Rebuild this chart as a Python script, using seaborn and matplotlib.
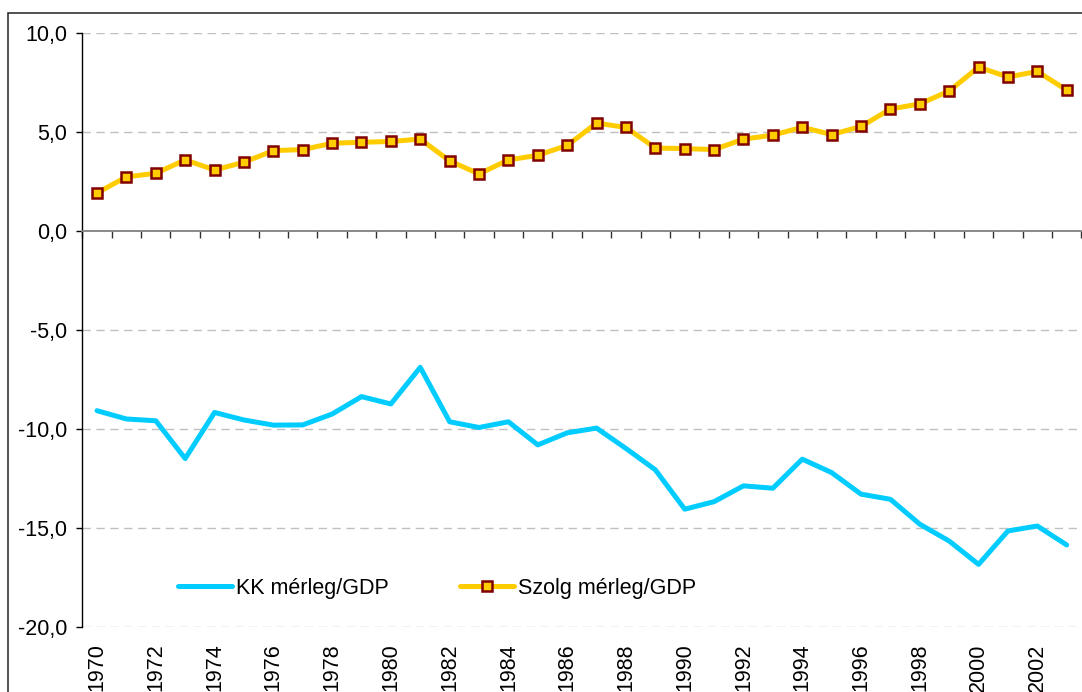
import numpy as np
import pandas as pd
import matplotlib
matplotlib.use("Agg")
import matplotlib.pyplot as plt
import matplotlib.patches as patches
from matplotlib.ticker import FuncFormatter, MultipleLocator
import seaborn as sns

years = list(range(1970, 2004))
kk_merleg = [-9.08, -9.50, -9.59, -11.50, -9.17, -9.55, -9.81, -9.80, -9.25, -8.37,
             -8.74, -6.89, -9.64, -9.93, -9.64, -10.81, -10.20, -9.96, -10.99, -12.07,
             -14.06, -13.68, -12.88, -13.00, -11.53, -12.21, -13.30, -13.56, -14.82, -15.67,
             -16.85, -15.16, -14.91, -15.87]
szolg_merleg = [1.93, 2.74, 2.92, 3.60, 3.09, 3.48, 4.07, 4.12, 4.44, 4.49,
                4.53, 4.65, 3.55, 2.89, 3.60, 3.83, 4.33, 5.46, 5.24, 4.20,
                4.17, 4.12, 4.65, 4.85, 5.25, 4.88, 5.29, 6.17, 6.43, 7.08,
                8.29, 7.79, 8.07, 7.13]
labels = ["KK mérleg/GDP", "Szolg mérleg/GDP"]

df = pd.DataFrame({"ev": years, "kk": kk_merleg, "szolg": szolg_merleg})

sns.set_theme(style="white")
plt.rcParams["font.family"] = ["Liberation Sans", "DejaVu Sans"]
plt.rcParams["text.color"] = "black"
fs = 15.5

fig = plt.figure(figsize=(10.82, 6.92), dpi=100)
ax = fig.add_axes([0.0761, 0.0944, 0.99945 - 0.0761, 0.9519 - 0.0944])

# outer chart frame (cut off at right and bottom)
fig.patches.append(patches.Rectangle((8.3 / 1082, -0.2), 1.2, 1 - 12.7 / 692 + 0.2,
                                     transform=fig.transFigure, fill=False,
                                     edgecolor="#222222", lw=1.1))

sns.lineplot(data=df, x="ev", y="kk", ax=ax, color="#00CCFF", lw=3.6,
             label=labels[0])
sns.lineplot(data=df, x="ev", y="szolg", ax=ax, color="#FFCC00", lw=3.6,
             marker="s", markersize=6.6, markerfacecolor="#FFCC00",
             markeredgecolor="#800000", markeredgewidth=1.8, label=labels[1])

ax.set_xlim(1969.5, 2003.5)
ax.set_ylim(-20, 10)
ax.set_xlabel("")
ax.set_ylabel("")

# gridlines
for v in [-20, -15, -10, -5, 5, 10]:
    ax.axhline(v, color="#c0c0c0", lw=1, ls=(0, (6, 4)), zorder=0)

# y axis
ax.yaxis.set_major_locator(MultipleLocator(5))
ax.yaxis.set_major_formatter(FuncFormatter(lambda v, p: f"{v:.1f}".replace(".", ",")))
ax.tick_params(axis="y", left=True, length=4, width=1, color="black",
               pad=7, labelsize=fs, labelcolor="black")

# x axis: line at zero with ticks between categories, labels at the bottom
ax.set_xticks(years[::2])
ax.set_xticklabels([str(y) for y in years[::2]])
ax.set_xticks([y - 0.5 for y in years] + [2003.5], minor=True)
ax.tick_params(axis="x", which="major", bottom=True, top=False, length=0,
               pad=12, labelsize=fs, labelcolor="black", labelrotation=90)
ax.tick_params(axis="x", which="minor", bottom=False, top=True, direction="in",
               length=5, width=1, color="#333333")

for s in ["right", "bottom"]:
    ax.spines[s].set_visible(False)
ax.spines["left"].set_color("black")
ax.spines["left"].set_linewidth(1)
ax.spines["top"].set_position(("data", 0))
ax.spines["top"].set_color("#808080")
ax.spines["top"].set_linewidth(1.3)

leg = ax.legend(ncol=2, frameon=False, fontsize=fs, handlelength=2.5, handletextpad=0.2,
                columnspacing=3.3, loc="center left", bbox_to_anchor=(0.0958, 0.065),
                borderpad=0, borderaxespad=0)
for t in leg.get_texts():
    t.set_color("black")

fig.savefig("out.png", dpi=100)
